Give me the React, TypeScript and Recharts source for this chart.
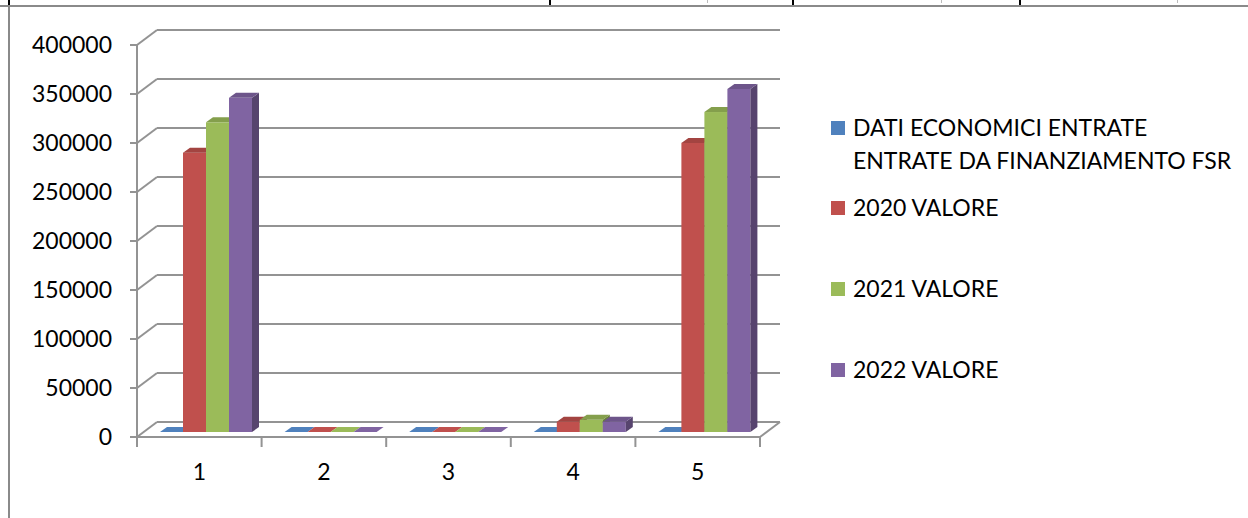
import React from "react";
import {
  BarChart,
  Bar,
  XAxis,
  YAxis,
  CartesianGrid,
  Legend,
} from "recharts";

// categories on the x axis
const categories = ["1", "2", "3", "4", "5"];

// series values
const datiEconomici = [0, 0, 0, 0, 0];
const valori2020 = [285000, 0, 0, 10500, 295000];
const valori2021 = [316000, 0, 0, 12500, 326500];
const valori2022 = [341000, 0, 0, 10500, 350000];

const yTicks = [0, 50000, 100000, 150000, 200000, 250000, 300000, 350000, 400000];

const seriesNames = [
  "DATI ECONOMICI ENTRATE ENTRATE DA FINANZIAMENTO FSR",
  "2020 VALORE",
  "2021 VALORE",
  "2022 VALORE",
];

const data = categories.map((name, i) => ({
  name,
  dati: datiEconomici[i],
  v2020: valori2020[i],
  v2021: valori2021[i],
  v2022: valori2022[i],
}));

const FONT = "Lato, 'Open Sans', sans-serif";
const GRID = "#939393";

// 3d offsets (in px)
const BACK_DX = 20;
const BACK_DY = -15;
const BAR_DX = 7;
const BAR_DY = -5;
const DEPTH_DX = 7;
const DEPTH_DY = -5;

const shade = (hex: string, k: number) => {
  const n = parseInt(hex.slice(1), 16);
  const r = Math.round(((n >> 16) & 255) * k);
  const g = Math.round(((n >> 8) & 255) * k);
  const b = Math.round((n & 255) * k);
  return `rgb(${Math.min(r, 255)},${Math.min(g, 255)},${Math.min(b, 255)})`;
};

// column drawn as a small box: front, top and right side
const Bar3D = (props: any) => {
  const { x, y, width, height, fill } = props;
  if (x == null || y == null) return null;
  const fx = x + BAR_DX;
  const fy = y + BAR_DY;
  const h = Math.max(height || 0, 0);
  const top = `${fx},${fy} ${fx + width},${fy} ${fx + width + DEPTH_DX},${fy + DEPTH_DY} ${fx + DEPTH_DX},${fy + DEPTH_DY}`;
  const side = `${fx + width},${fy} ${fx + width + DEPTH_DX},${fy + DEPTH_DY} ${fx + width + DEPTH_DX},${fy + DEPTH_DY + h} ${fx + width},${fy + h}`;
  return (
    <g>
      {h > 0 && <rect x={fx} y={fy} width={width} height={h} fill={fill} />}
      {h > 0 && <polygon points={side} fill={shade(fill, 0.68)} />}
      <polygon points={top} fill={h > 0 ? shade(fill, 0.85) : fill} />
    </g>
  );
};

// back wall gridlines with the diagonal on the left wall
const gridLine = (p: any) => {
  const isFloor =
    p.y != null && p.height != null
      ? Math.abs(p.y1 - (p.y + p.height)) < 1
      : p.index === 0;
  return (
    <g key={`grid-${p.index}`}>
      <line
        x1={p.x1}
        y1={p.y1}
        x2={p.x1 + BACK_DX}
        y2={p.y1 + BACK_DY}
        stroke={GRID}
        strokeWidth={2}
      />
      <line
        x1={p.x1 + BACK_DX}
        y1={p.y1 + BACK_DY}
        x2={p.x2 + BACK_DX}
        y2={p.y2 + BACK_DY}
        stroke={GRID}
        strokeWidth={2}
      />
      {isFloor && (
        <line
          x1={p.x2}
          y1={p.y2}
          x2={p.x2 + BACK_DX}
          y2={p.y2 + BACK_DY}
          stroke={GRID}
          strokeWidth={2}
        />
      )}
    </g>
  );
};

// category label in the middle, tick marks between categories
const CategoryTick = (props: any) => {
  const { x, y, payload, index, visibleTicksCount, width } = props;
  const band =
    width && visibleTicksCount ? width / visibleTicksCount : (payload.offset || 62) * 2;
  const last = index === (visibleTicksCount || 5) - 1;
  return (
    <g>
      <line x1={x - band / 2} y1={y} x2={x - band / 2} y2={y + 10} stroke={GRID} strokeWidth={2} />
      {last && (
        <line x1={x + band / 2} y1={y} x2={x + band / 2} y2={y + 10} stroke={GRID} strokeWidth={2} />
      )}
      <text x={x} y={y + 43} textAnchor="middle" fill="#000" fontSize={23} fontFamily={FONT}>
        {payload.value}
      </text>
    </g>
  );
};

const renderLegend = (props: any) => {
  const items = [...(props.payload || [])].sort(
    (a: any, b: any) => seriesNames.indexOf(a.value) - seriesNames.indexOf(b.value)
  );
  const gaps = [14, 48, 48, 0];
  return (
    <div style={{ display: "flex", flexDirection: "column", fontFamily: FONT }}>
      {items.map((item: any, i: number) => (
        <div
          key={`legend-${i}`}
          style={{ display: "flex", alignItems: "flex-start", marginBottom: gaps[i] }}
        >
          <span
            style={{
              display: "inline-block",
              width: 14,
              height: 14,
              marginTop: 10,
              marginRight: 8,
              background: item.color,
              flex: "0 0 auto",
            }}
          />
          <span
            style={{
              fontSize: 23,
              lineHeight: "33px",
              color: "#000",
              width: 385,
            }}
          >
            {item.value}
          </span>
        </div>
      ))}
    </div>
  );
};

const App = () => {
  return (
    <div
      style={{
        position: "absolute",
        left: 0,
        top: 0,
        width: 1248,
        height: 518,
        background: "#fff",
        overflow: "hidden",
      }}
    >
      {/* table border above the chart */}
      <div style={{ position: "absolute", left: 0, top: 5, width: 1248, height: 2, background: "#8a8a8a" }} />
      <div style={{ position: "absolute", left: 8, top: 5, width: 2, height: 513, background: "#8a8a8a" }} />
      {[8, 549, 792, 1019].map((l) => (
        <div key={l} style={{ position: "absolute", left: l, top: 0, width: 2, height: 5, background: "#000" }} />
      ))}
      {[707, 941, 1177].map((l) => (
        <div key={l} style={{ position: "absolute", left: l, top: 0, width: 1, height: 3, background: "#bbb" }} />
      ))}

      <BarChart
        width={1248}
        height={518}
        data={data}
        margin={{ top: 45, right: 488, bottom: 41, left: 37 }}
        barGap={0}
        barSize={23}
      >
        <CartesianGrid vertical={false} horizontal={gridLine} />
        <XAxis
          dataKey="name"
          height={40}
          interval={0}
          tickSize={0}
          tickMargin={0}
          axisLine={{ stroke: GRID, strokeWidth: 2 }}
          tickLine={false}
          tick={<CategoryTick />}
        />
        <YAxis
          width={100}
          domain={[0, 400000]}
          ticks={yTicks}
          interval={0}
          axisLine={{ stroke: GRID, strokeWidth: 2 }}
          tickLine={{ stroke: GRID, strokeWidth: 2 }}
          tickSize={7}
          tickMargin={18}
          tick={{ fill: "#000", fontSize: 23, fontFamily: FONT }}
        />
        <Legend
          layout="vertical"
          verticalAlign="middle"
          align="center"
          content={renderLegend}
          wrapperStyle={{ left: 831, top: 111, width: 410 }}
        />
        <Bar dataKey="dati" name={seriesNames[0]} fill="#4F81BD" isAnimationActive={false} shape={(p: any) => <Bar3D {...p} />} />
        <Bar dataKey="v2020" name={seriesNames[1]} fill="#C0504D" isAnimationActive={false} shape={(p: any) => <Bar3D {...p} />} />
        <Bar dataKey="v2021" name={seriesNames[2]} fill="#9BBB59" isAnimationActive={false} shape={(p: any) => <Bar3D {...p} />} />
        <Bar dataKey="v2022" name={seriesNames[3]} fill="#8064A2" isAnimationActive={false} shape={(p: any) => <Bar3D {...p} />} />
      </BarChart>
    </div>
  );
};

export default App;
